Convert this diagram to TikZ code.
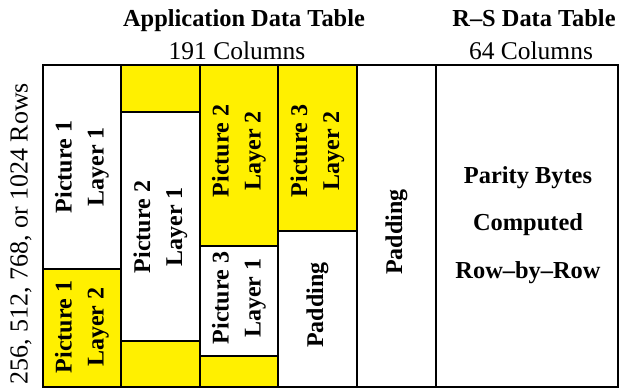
\documentclass[tikz,border=0pt]{standalone}
\usepackage{fontspec}
\setmainfont{Liberation Serif}
\definecolor{cellyellow}{RGB}{255,240,0}
\tikzset{
  cellbox/.style={draw=black, line width=1.2pt},
  ycell/.style={cellbox, fill=cellyellow},
  wcell/.style={cellbox, fill=white},
  celltext/.style={rotate=90, align=center, font=\fontsize{24}{32}\selectfont\bfseries, inner sep=0pt},
  titletext/.style={font=\fontsize{24.4}{28}\selectfont\bfseries, anchor=base},
  subtext/.style={font=\fontsize{25.5}{30}\selectfont, anchor=base},
}
\begin{document}
\begin{tikzpicture}[x=1pt,y=-1pt]
\useasboundingbox (0,0) rectangle (620,391);
% column 1
\draw[wcell] (43,65) rectangle (121,269);
\draw[ycell] (43,269) rectangle (121,387);
% column 2
\draw[ycell] (121,65) rectangle (200,112);
\draw[wcell] (121,112) rectangle (200,341);
\draw[ycell] (121,341) rectangle (200,387);
% column 3
\draw[ycell] (200,65) rectangle (278,246);
\draw[wcell] (200,246) rectangle (278,356);
\draw[ycell] (200,356) rectangle (278,387);
% column 4
\draw[ycell] (278,65) rectangle (357,231);
\draw[wcell] (278,231) rectangle (357,387);
% column 5
\draw[wcell] (357,65) rectangle (436,387);
% column 6
\draw[wcell] (436,65) rectangle (618,387);
% outer frame
\draw[line width=1.5pt] (43,65) rectangle (618,387);

% cell texts
\node[celltext] (p1l1) at (82,167) {Picture 1\\Layer 1};
\node[celltext] (p1l2) at (82,327) {Picture 1\\Layer 2};
\node[celltext] (p2l1) at (160.5,227) {Picture 2\\Layer 1};
\node[celltext] (p2l2) at (239,151) {Picture 2\\Layer 2};
\node[celltext] (p3l1) at (239,298) {Picture 3\\Layer 1};
\node[celltext] (p3l2) at (317.5,151) {Picture 3\\Layer 2};
\node[celltext] (pad1) at (317.5,305) {Padding};
\node[celltext] (pad2) at (396.5,232) {Padding};
\node[align=center, font=\fontsize{24.4}{47.5}\selectfont\bfseries, inner sep=0pt] (parity) at (528,225) {Parity Bytes\\Computed\\Row--by--Row};

% titles
\node[titletext] (apptitle) at (244,26) {Application Data Table};
\node[subtext] (appcols) at (237,59) {191 Columns};
\node[titletext] (rstitle) at (534,26) {R--S Data Table};
\node[subtext] (rscols) at (531,59) {64 Columns};

% rows label
\node[rotate=90, font=\fontsize{26}{30}\selectfont, inner sep=0pt] (rows) at (21,234) {256, 512, 768, or 1024 Rows};
\end{tikzpicture}
\end{document}
